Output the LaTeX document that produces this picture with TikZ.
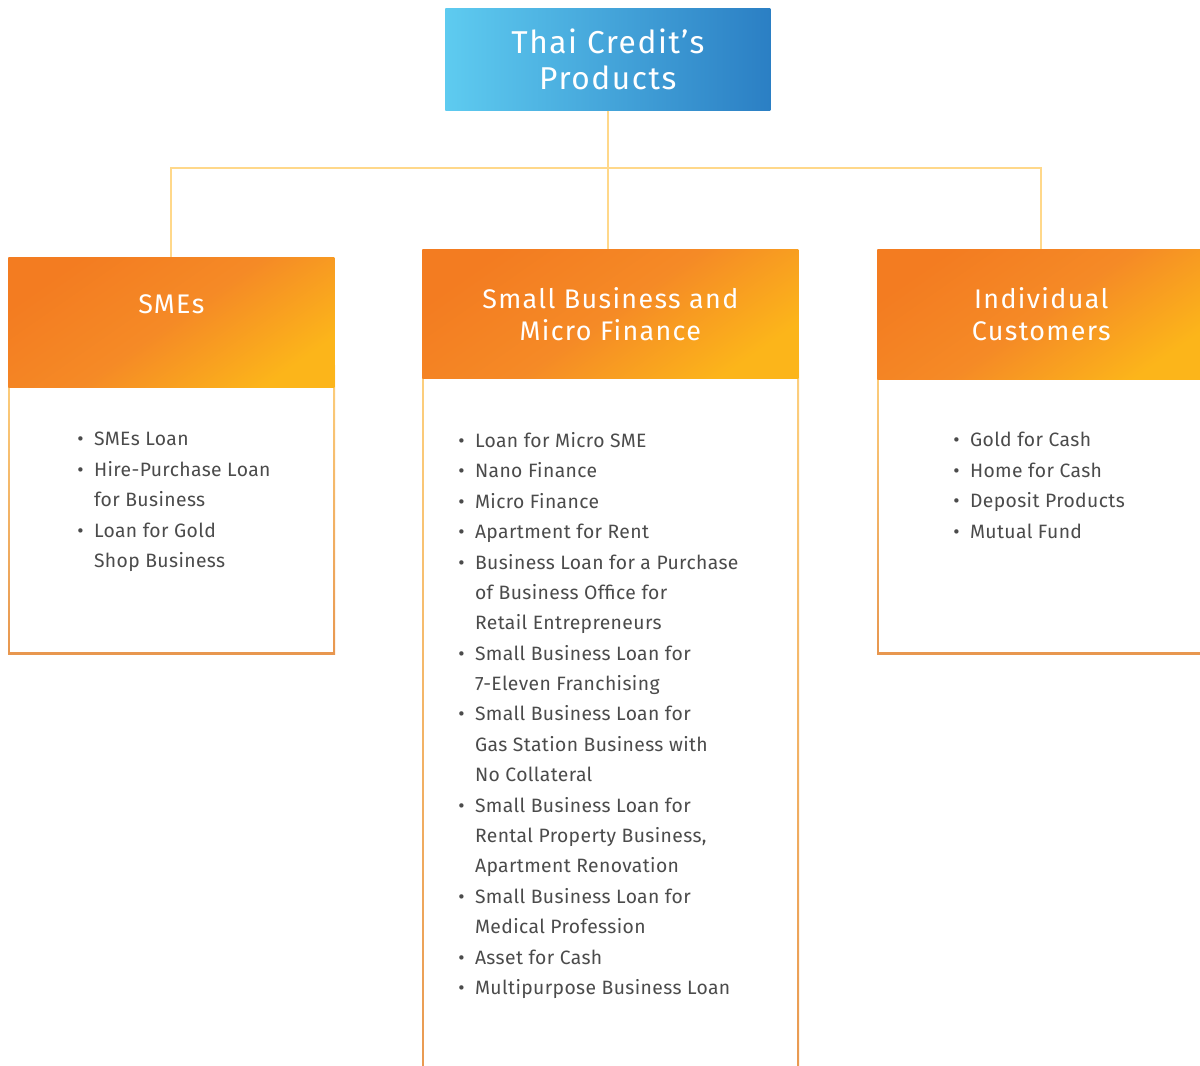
\documentclass[tikz,border=0pt]{standalone}
\usepackage{fontspec}
\setmainfont{Fira Sans}[LetterSpace=2]
\newfontfamily\headfont{Fira Sans}[LetterSpace=5]
\usetikzlibrary{positioning}

\definecolor{blueA}{HTML}{5ECBF0}
\definecolor{blueB}{HTML}{2B7FC4}
\definecolor{orA}{HTML}{F37C21}
\definecolor{orM}{HTML}{F58A26}
\definecolor{orB}{HTML}{FCB51A}
\definecolor{linkc}{HTML}{FFD88A}
\definecolor{rimtop}{HTML}{FDD07E}
\definecolor{rimbot}{HTML}{E8974F}
\definecolor{txt}{HTML}{4B4B4B}

\newlength\bw
\setlength\bw{0.95em}
\newcommand\pt[1]{\makebox[\bw][l]{\textbullet}#1}
\newcommand\pc[1]{\hspace*{\bw}#1}

\begin{document}
\begin{tikzpicture}[x=0.02cm, y=-0.02cm,
  link/.style={draw=linkc, line width=1.2pt},
  title/.style={anchor=north west, inner sep=0pt, minimum width=6.5cm, minimum height=2.04cm,
    left color=blueA, right color=blueB, text=white, align=center,
    font=\headfont\fontsize{18}{21}\selectfont},
  head/.style={anchor=north west, inner sep=0pt, minimum height=2.6cm,
    top color=orA, bottom color=orB, middle color=orM, shading angle=35,
    text=white, align=center, font=\headfont\fontsize{15.3}{18.2}\selectfont},
  list/.style={anchor=north west, inner sep=0pt, align=left, text=txt,
    font=\fontsize{11}{17.3}\selectfont}]
  \useasboundingbox (0,0) rectangle (1200,1065);
  \clip (0,0) rectangle (1200,1065);

  % body frames with shaded rims
  \shade[top color=rimtop, bottom color=rimbot] (8,365) rectangle (335,654);
  \fill[white] (10,387) rectangle (333,652);
  \shade[top color=rimtop, bottom color=rimbot] (422,360) rectangle (799,1100);
  \fill[white] (424,378) rectangle (797,1100);
  \shade[top color=rimtop, bottom color=rimbot] (877,360) rectangle (1220,654);
  \fill[white] (879,379) rectangle (1220,652);

  % top of the tree
  \node[title] (tc) at (445,8) {Thai Credit’s\\Products};

  % the three groups
  \node[head, minimum width=6.52cm, text depth=0.73cm] (sme) at (8,257) {SMEs};
  \node[head, minimum width=7.52cm, minimum height=2.58cm] (mf) at (422,249) {Small Business and\\Micro Finance};
  \node[head, minimum width=6.56cm] (ind) at (877,249) {Individual\\Customers};

  \coordinate (bus) at (607,168);
  \draw[link] (tc.south) -- (mf.north -| tc.south);
  \draw[link] (sme.north) |- (bus) -| (ind.north);

  % product lists
  \node[list] (smel) at (77,432) {\pt{SMEs Loan}\\\pt{Hire-Purchase Loan}\\\pc{for Business}\\
    \pt{Loan for Gold}\\\pc{Shop Business}};
  \node[list] (mfl) at (458,432) {\pt{Loan for Micro SME}\\\pt{Nano Finance}\\\pt{Micro Finance}\\
    \pt{Apartment for Rent}\\\pt{Business Loan for a Purchase}\\\pc{of Business Office for}\\
    \pc{Retail Entrepreneurs}\\\pt{Small Business Loan for}\\\pc{7-Eleven Franchising}\\
    \pt{Small Business Loan for}\\\pc{Gas Station Business with}\\\pc{No Collateral}\\
    \pt{Small Business Loan for}\\\pc{Rental Property Business,}\\\pc{Apartment Renovation}\\
    \pt{Small Business Loan for}\\\pc{Medical Profession}\\\pt{Asset for Cash}\\
    \pt{Multipurpose Business Loan}};
  \node[list] (indl) at (953,432) {\pt{Gold for Cash}\\\pt{Home for Cash}\\\pt{Deposit Products}\\
    \pt{Mutual Fund}};
\end{tikzpicture}
\end{document}
